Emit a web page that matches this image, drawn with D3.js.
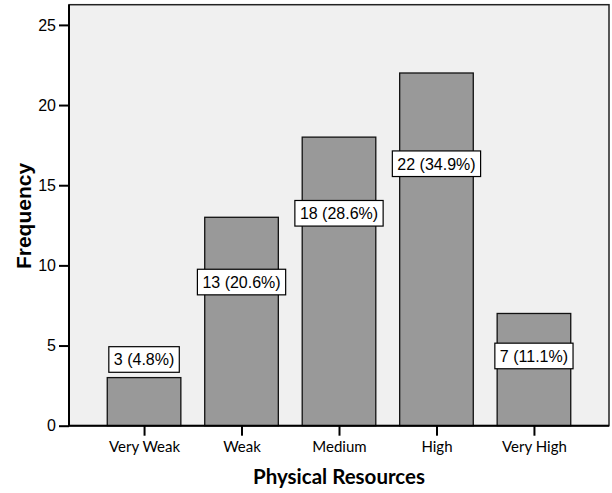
<!DOCTYPE html>
<html>
<head>
<meta charset="utf-8">
<script src="https://cdn.jsdelivr.net/npm/d3@7"></script>
<style>
  html, body { margin: 0; padding: 0; background: #ffffff; }
  svg { display: block; }
</style>
</head>
<body>
<svg id="chart" width="612" height="493"></svg>
<script>
// ---- data ----
const categories = ["Very Weak", "Weak", "Medium", "High", "Very High"];
const frequencies = [3, 13, 18, 22, 7];
const percentLabels = ["4.8%", "20.6%", "28.6%", "34.9%", "11.1%"];
// label anchor (in frequency units)
const labelAnchor = [4.13, 8.96, 13.25, 16.34, 4.35];
const yTicks = [0, 5, 10, 15, 20, 25];
const xTitle = "Physical Resources";
const yTitle = "Frequency";

// ---- layout ----
const svg = d3.select("#chart");
const plot = { left: 69, right: 609, top: 4.7, bottom: 425.7 };
const arial = "'Liberation Sans', Arial, sans-serif";
const calibri = "Lato, 'Open Sans', sans-serif";

const x = d3.scalePoint()
  .domain(categories)
  .range([plot.left, plot.right])
  .padding(0.77);
const step = x.step();
const barW = step * 0.755;

const y = d3.scaleLinear()
  .domain([0, 26.26])
  .range([plot.bottom, plot.top]);

// plot background
svg.append("rect")
  .attr("x", plot.left).attr("y", plot.top)
  .attr("width", plot.right - plot.left)
  .attr("height", plot.bottom - plot.top)
  .attr("fill", "#f0f0f0")
  .attr("stroke", "#222")
  .attr("stroke-width", 1.5);

// bars
svg.append("g").selectAll("rect")
  .data(frequencies)
  .join("rect")
  .attr("x", (d, i) => x(categories[i]) - barW / 2)
  .attr("y", d => y(d))
  .attr("width", barW)
  .attr("height", d => y(0) - y(d))
  .attr("fill", "#999999")
  .attr("stroke", "#111")
  .attr("stroke-width", 1.3);

// y axis
const yAxis = d3.axisLeft(y).tickValues(yTicks).tickSize(10).tickPadding(3);
const gy = svg.append("g")
  .attr("transform", `translate(${plot.left},0)`)
  .call(yAxis);
gy.attr("font-family", arial).attr("font-size", 16);
gy.select(".domain").attr("stroke", "#000").attr("stroke-width", 2)
  .attr("d", `M0,${plot.top}V${plot.bottom}`);
gy.selectAll(".tick line").attr("stroke", "#000").attr("stroke-width", 2);
gy.selectAll(".tick text").attr("fill", "#000");

// x axis
const xAxis = d3.axisBottom(x).tickSize(10).tickPadding(6);
const gx = svg.append("g")
  .attr("transform", `translate(0,${plot.bottom})`)
  .call(xAxis);
gx.attr("font-family", calibri).attr("font-size", 15);
gx.select(".domain").attr("stroke", "#000").attr("stroke-width", 2)
  .attr("d", `M${plot.left},0H${plot.right}`);
gx.selectAll(".tick line").attr("stroke", "#000").attr("stroke-width", 2);
gx.selectAll(".tick text").attr("fill", "#000");

// value labels
const labels = svg.append("g").selectAll("g")
  .data(frequencies)
  .join("g")
  .attr("transform", (d, i) => `translate(${x(categories[i])},${y(labelAnchor[i])})`);
labels.each(function(d, i) {
  const g = d3.select(this);
  const txt = g.append("text")
    .attr("text-anchor", "middle")
    .attr("dy", "0.36em")
    .attr("font-family", arial)
    .attr("font-size", 16)
    .attr("fill", "#000")
    .text(`${d} (${percentLabels[i]})`);
  const w = txt.node().getComputedTextLength();
  g.insert("rect", "text")
    .attr("x", -w / 2 - 5)
    .attr("y", -12.8)
    .attr("width", w + 10)
    .attr("height", 25.6)
    .attr("fill", "#fff")
    .attr("stroke", "#000")
    .attr("stroke-width", 1.2);
});

// axis titles
svg.append("text")
  .attr("x", (plot.left + plot.right) / 2)
  .attr("y", 484)
  .attr("text-anchor", "middle")
  .attr("font-family", calibri)
  .attr("font-weight", "bold")
  .attr("font-size", 20.5)
  .attr("fill", "#000")
  .text(xTitle);

svg.append("text")
  .attr("transform", `translate(30.5,216) rotate(-90)`)
  .attr("text-anchor", "middle")
  .attr("font-family", arial)
  .attr("font-weight", "bold")
  .attr("font-size", 21)
  .attr("fill", "#000")
  .text(yTitle);
</script>
</body>
</html>
